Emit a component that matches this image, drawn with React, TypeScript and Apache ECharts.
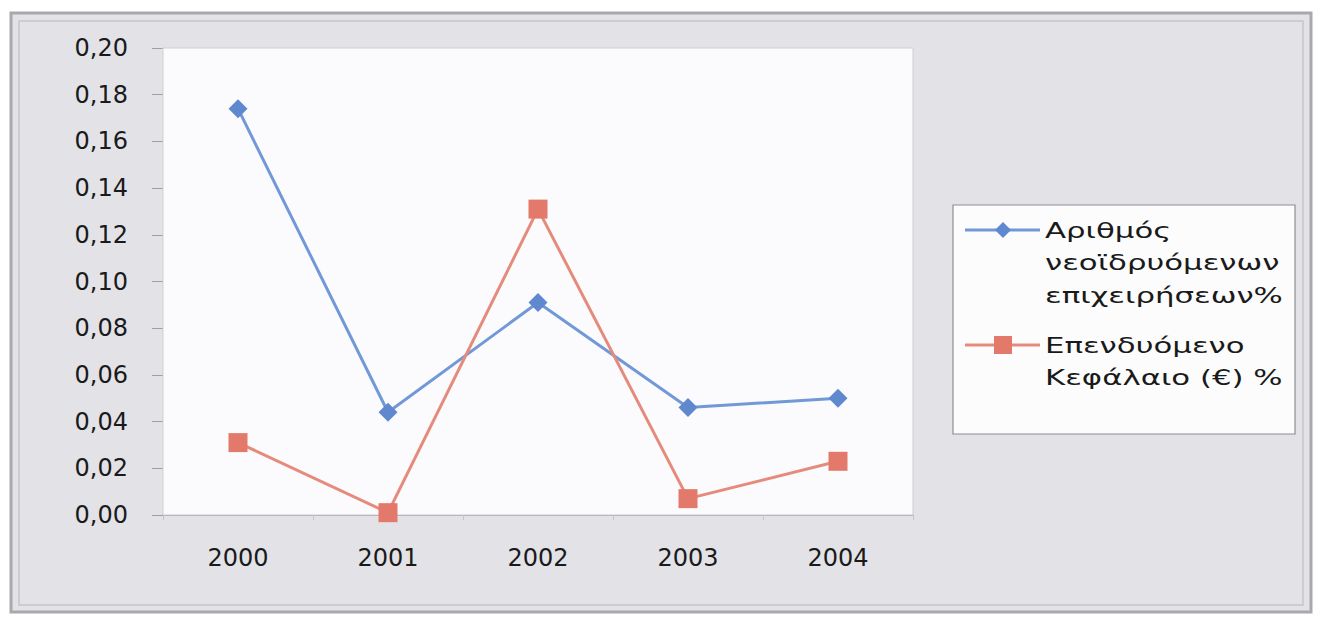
import React, { useEffect, useRef } from "react";
import * as echarts from "echarts";

const years = ["2000", "2001", "2002", "2003", "2004"];
const firmsPct = [0.174, 0.044, 0.091, 0.046, 0.05];
const capitalPct = [0.031, 0.001, 0.131, 0.007, 0.023];
const seriesNames = [
  "Αριθμός\nνεοϊδρυόμενων\nεπιχειρήσεων%",
  "Επενδυόμενο\nΚεφάλαιο (€) %",
];
const yTicks = { min: 0, max: 0.2, interval: 0.02 };

const BLUE = "#5f88cf";
const BLUE_LINE = "#7298d8";
const ORANGE = "#e3796a";
const ORANGE_LINE = "#e58b7c";
const FONT = "DejaVu Sans";

export default function App() {
  const ref = useRef<HTMLDivElement>(null);
  useEffect(() => {
    if (!ref.current) return;
    const chart = echarts.init(ref.current, null, { renderer: "svg" });
    const lh = 32.5;
    const legendText = (name: string, y: number) => ({
      type: "text",
      x: 1045,
      y: y - lh / 2,
      scaleX: 1.4,
      z: 100,
      style: {
        text: name,
        fill: "#1a1a1a",
        font: `22px "${FONT}"`,
        lineHeight: lh,
        verticalAlign: "top",
        align: "left",
      },
    });
    chart.setOption({
      animation: false,
      backgroundColor: "transparent",
      textStyle: { fontFamily: FONT },
      grid: {
        left: 163,
        right: 406,
        top: 48,
        bottom: 104,
        show: true,
        backgroundColor: "#fbfbfd",
        borderColor: "#cfcfd4",
        borderWidth: 1,
        z: 1,
      },
      xAxis: {
        type: "category",
        data: years,
        boundaryGap: true,
        axisLine: { show: true, lineStyle: { color: "#a0a0a4", width: 1.5 } },
        axisTick: { show: true, length: 5, lineStyle: { color: "#c4c4c8" } },
        axisLabel: { color: "#1a1a1a", fontSize: 24, fontFamily: FONT, margin: 31 },
      },
      yAxis: {
        type: "value",
        min: yTicks.min,
        max: yTicks.max,
        interval: yTicks.interval,
        axisLine: { show: true, lineStyle: { color: "#c4c4c8" } },
        axisTick: { show: true, length: 11, lineStyle: { color: "#a0a0a4" } },
        splitLine: { show: true, lineStyle: { color: "#a0a0a4", width: 1.2 } },
        axisLabel: {
          color: "#1a1a1a",
          fontSize: 24,
          fontFamily: FONT,
          margin: 35,
          formatter: (v: number) => v.toFixed(2).replace(".", ","),
        },
      },
      series: [
        {
          name: seriesNames[0],
          type: "line",
          data: firmsPct,
          symbol: "diamond",
          symbolSize: 19,
          lineStyle: { color: BLUE_LINE, width: 3 },
          itemStyle: { color: BLUE },
          z: 3,
        },
        {
          name: seriesNames[1],
          type: "line",
          data: capitalPct,
          symbol: "rect",
          symbolSize: 19,
          lineStyle: { color: ORANGE_LINE, width: 3 },
          itemStyle: { color: ORANGE },
          z: 4,
        },
      ],
      graphic: [
        {
          type: "rect",
          z: -10,
          shape: { x: 11, y: 13, width: 1300, height: 599 },
          style: { fill: "#e3e3e7", stroke: "#a9a9ad", lineWidth: 3 },
        },
        {
          type: "rect",
          z: -9,
          shape: { x: 19, y: 21, width: 1284, height: 584 },
          style: { fill: "none", stroke: "#c6c6ca", lineWidth: 1.5 },
        },
        {
          type: "rect",
          z: 90,
          shape: { x: 953, y: 205, width: 342, height: 229 },
          style: { fill: "#fcfcfd", stroke: "#8e8e92", lineWidth: 1.2 },
        },
        {
          type: "line",
          z: 95,
          shape: { x1: 965, y1: 230, x2: 1040, y2: 230 },
          style: { stroke: BLUE_LINE, lineWidth: 3 },
        },
        {
          type: "polygon",
          z: 96,
          shape: { points: [[1003, 222], [1011, 230], [1003, 238], [995, 230]] },
          style: { fill: BLUE },
        },
        {
          type: "line",
          z: 95,
          shape: { x1: 965, y1: 345, x2: 1040, y2: 345 },
          style: { stroke: ORANGE_LINE, lineWidth: 3 },
        },
        {
          type: "rect",
          z: 96,
          shape: { x: 994, y: 336, width: 18, height: 18 },
          style: { fill: ORANGE },
        },
        legendText(seriesNames[0], 230),
        legendText(seriesNames[1], 345),
      ],
    });
    return () => chart.dispose();
  }, []);
  return (
    <div
      ref={ref}
      style={{ position: "fixed", left: 0, top: 0, width: 1319, height: 619, background: "#fff" }}
    />
  );
}
